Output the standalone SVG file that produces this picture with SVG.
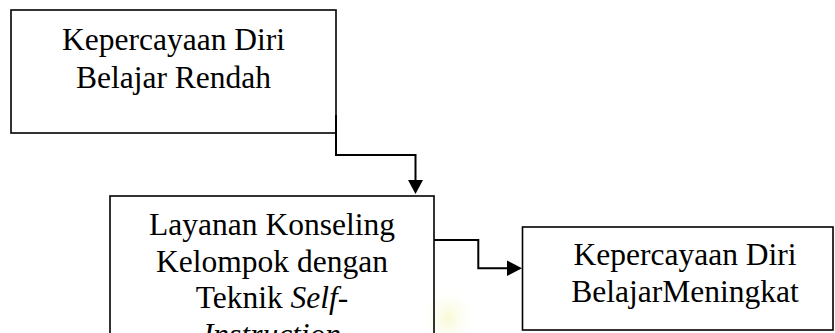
<svg xmlns="http://www.w3.org/2000/svg" width="835" height="333" viewBox="0 0 835 333">
<style>
.box{fill:none;stroke:#000;stroke-width:1.6}
.conn{fill:none;stroke:#000;stroke-width:2}
</style>
<defs>
<radialGradient id="wm" cx="0.5" cy="0.5" r="0.5">
<stop offset="0" stop-color="#f4f6b8" stop-opacity="0.6"/>
<stop offset="1" stop-color="#ffffff" stop-opacity="0"/>
</radialGradient>
</defs>
<rect width="835" height="333" fill="#fff"/>
<ellipse cx="448" cy="318" rx="30" ry="34" fill="url(#wm)"/>
<g font-family="Liberation Serif, Times New Roman, serif" font-size="31.5" fill="#000" text-anchor="middle">
<g id="node1">
<rect class="box" x="11" y="10" width="325" height="123"/>
<text x="173.5" y="50">Kepercayaan Diri</text>
<text x="173.5" y="88">Belajar Rendah</text>
</g>
<g id="node2">
<rect class="box" x="110" y="196" width="324" height="160"/>
<text x="272" y="235">Layanan Konseling</text>
<text x="272" y="271.5">Kelompok dengan</text>
<text x="272" y="308">Teknik <tspan font-style="italic">Self</tspan>-</text>
<text x="272" y="344.5" font-style="italic">Instruction</text>
</g>
<g id="node3">
<rect class="box" x="522.5" y="227" width="310.5" height="103"/>
<text x="685" y="265">Kepercayaan Diri</text>
<text x="685" y="301.5">BelajarMeningkat</text>
</g>
</g>
<g id="connectors">
<polyline class="conn" points="336,115 336,155 415.5,155 415.5,181"/>
<polygon points="408,180 423,180 415.5,194" fill="#000"/>
<polyline class="conn" points="434,240 478.3,240 478.3,268.3 508,268.3"/>
<polygon points="507,260.5 507,276 522,268.3" fill="#000"/>
</g>
</svg>
